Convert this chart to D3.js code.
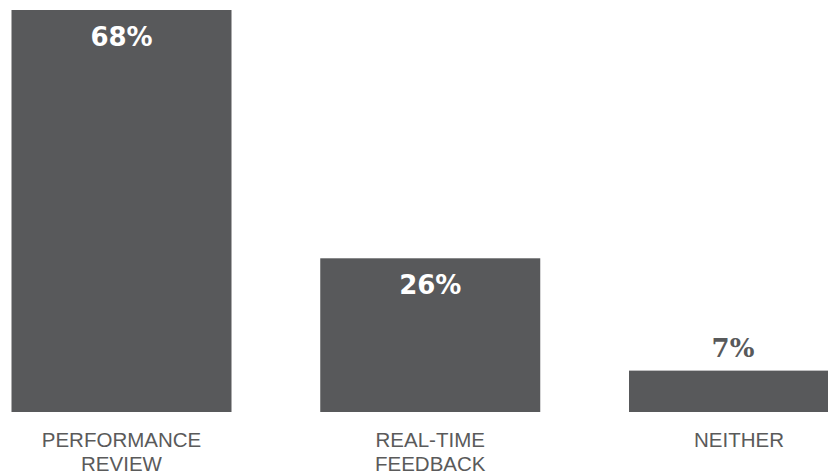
<!DOCTYPE html>
<html>
<head>
<meta charset="utf-8">
<script src="https://cdn.jsdelivr.net/npm/d3@7"></script>
<style>
  body { margin: 0; background: #fff; }
</style>
</head>
<body>
<div id="chart-area"></div>
<script>
// data
var categories = ["PERFORMANCE REVIEW", "REAL-TIME FEEDBACK", "NEITHER"];
var labelLines = [["PERFORMANCE", "REVIEW"], ["REAL-TIME", "FEEDBACK"], ["NEITHER"]];
var values = [68, 26, 7];

var width = 828, height = 473;
var barColor = "#58595b";

var svg = d3.select("#chart-area")
    .append("svg")
    .attr("width", width)
    .attr("height", height);

// bar centres
var x = d3.scalePoint()
    .domain(categories)
    .range([121.5, 739]);

var barWidth = 220;

var y = d3.scaleLinear()
    .domain([0, 68])
    .range([412, 10]);

svg.selectAll("rect.bar")
    .data(values)
    .enter()
    .append("rect")
    .attr("class", "bar")
    .attr("x", function (d, i) { return x(categories[i]) - barWidth / 2; })
    .attr("y", function (d) { return y(d); })
    .attr("width", barWidth)
    .attr("height", function (d) { return y(0) - y(d); })
    .attr("fill", barColor);

// value labels: inside the bar when tall enough, else above it
svg.selectAll("text.value")
    .data(values)
    .enter()
    .append("text")
    .attr("class", "value")
    .attr("x", function (d, i) { return x(categories[i]) + (d < 10 ? -6 : 0); })
    .attr("y", function (d) { return d < 10 ? y(d) - 14 : y(d) + 36; })
    .attr("text-anchor", "middle")
    .attr("font-family", function (d) { return d < 10 ? "DejaVu Serif" : "DejaVu Sans"; })
    .attr("font-weight", "bold")
    .attr("font-size", "26px")
    .attr("fill", function (d) { return d < 10 ? barColor : "#ffffff"; })
    .text(function (d) { return d + "%"; });

// category labels
var cat = svg.selectAll("text.cat")
    .data(labelLines)
    .enter()
    .append("text")
    .attr("class", "cat")
    .attr("x", function (d, i) { return x(categories[i]); })
    .attr("y", 446.5)
    .attr("text-anchor", "middle")
    .attr("font-family", "Liberation Sans, Arial, sans-serif")
    .attr("font-size", "20.5px")
    .attr("fill", "#5a5a5a");

cat.selectAll("tspan")
    .data(function (d) { return d; })
    .enter()
    .append("tspan")
    .attr("x", function () { return d3.select(this.parentNode).attr("x"); })
    .attr("dy", function (d, i) { return i === 0 ? 0 : 24; })
    .text(function (d) { return d; });
</script>
</body>
</html>
